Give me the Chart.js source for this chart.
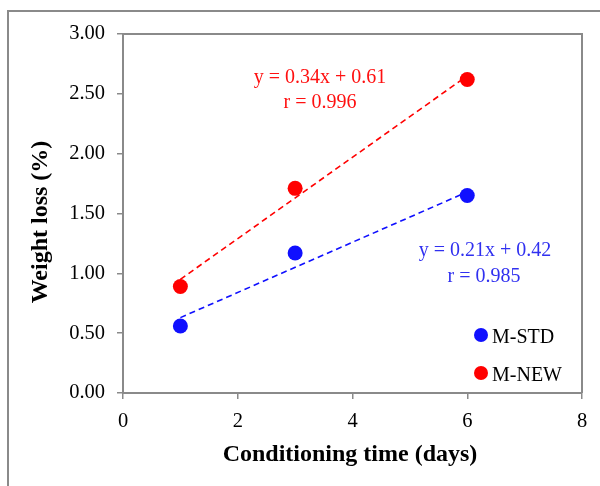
<!DOCTYPE html>
<html>
<head>
<meta charset="utf-8">
<script src="https://cdn.jsdelivr.net/npm/chart.js@4.4.1/dist/chart.umd.min.js"></script>
<style>
  html, body { margin: 0; padding: 0; background: #ffffff; }
  #wrap { width: 600px; height: 486px; position: relative; }
</style>
</head>
<body>
<div id="wrap"><canvas id="c" width="600" height="486"></canvas></div>
<script>
// ---- data ----
const days = [1, 3, 6];
const mStd = [0.56, 1.17, 1.65];
const mNew = [0.89, 1.71, 2.62];
const fitDays = [1, 6];
const fitStd = [0.63, 1.68];
const fitNew = [0.95, 2.65];
const seriesNames = ['M-STD', 'M-NEW'];
const eqStd = ['y = 0.21x + 0.42', 'r = 0.985'];
const eqNew = ['y = 0.34x + 0.61', 'r = 0.996'];
const xTitle = 'Conditioning time (days)';
const yTitle = 'Weight loss (%)';

const BLUE = '#1010ff';
const RED = '#ff0000';
const BLUE_TXT = '#3030f0';
const RED_TXT = '#ff1010';
const GRAY = '#8a8a8a';
const SERIF = '"Liberation Serif", "Times New Roman", serif';

const pts = (xs, ys) => xs.map((x, i) => ({ x: x, y: ys[i] }));

const decor = {
  id: 'decor',
  afterDraw(chart) {
    const ctx = chart.ctx;
    const a = chart.chartArea;
    ctx.save();
    // outer frame (top and left)
    ctx.strokeStyle = GRAY;
    ctx.lineWidth = 2;
    ctx.beginPath();
    ctx.moveTo(8, 486); ctx.lineTo(8, 11); ctx.lineTo(600, 11);
    ctx.stroke();
    // plot box top and right
    ctx.beginPath();
    ctx.moveTo(a.left, a.top); ctx.lineTo(a.right, a.top); ctx.lineTo(a.right, a.bottom);
    ctx.stroke();

    // equations
    ctx.font = '20px ' + SERIF;
    ctx.textAlign = 'center';
    ctx.textBaseline = 'alphabetic';
    ctx.fillStyle = RED_TXT;
    ctx.fillText(eqNew[0], 320, 83);
    ctx.fillText(eqNew[1], 320, 108);
    ctx.fillStyle = BLUE_TXT;
    ctx.fillText(eqStd[0], 485, 256);
    ctx.fillText(eqStd[1], 484, 282);

    // legend
    const legend = [[seriesNames[0], BLUE, 335, 343], [seriesNames[1], RED, 373, 381]];
    ctx.textAlign = 'left';
    legend.forEach(([name, col, cy, by]) => {
      ctx.fillStyle = col;
      ctx.beginPath(); ctx.arc(481, cy, 7, 0, Math.PI * 2); ctx.fill();
      ctx.fillStyle = '#000';
      ctx.fillText(name, 492, by);
    });

    // axis titles
    ctx.font = 'bold 24px ' + SERIF;
    ctx.fillStyle = '#000';
    ctx.textAlign = 'center';
    ctx.fillText(xTitle, 350, 461);
    ctx.translate(47, 222);
    ctx.rotate(-Math.PI / 2);
    ctx.fillText(yTitle, 0, 0);
    ctx.restore();
  }
};

new Chart(document.getElementById('c'), {
  type: 'scatter',
  data: {
    datasets: [
      { label: seriesNames[0], data: pts(days, mStd), backgroundColor: BLUE, borderColor: BLUE,
        pointRadius: 7.5, pointHoverRadius: 7.5, borderWidth: 0 },
      { label: seriesNames[1], data: pts(days, mNew), backgroundColor: RED, borderColor: RED,
        pointRadius: 7.5, pointHoverRadius: 7.5, borderWidth: 0 },
      { label: 'fit STD', data: pts(fitDays, fitStd), showLine: true, pointRadius: 0,
        borderColor: BLUE, borderWidth: 1.6, borderDash: [6, 4], fill: false },
      { label: 'fit NEW', data: pts(fitDays, fitNew), showLine: true, pointRadius: 0,
        borderColor: RED, borderWidth: 1.6, borderDash: [6, 4], fill: false }
    ]
  },
  options: {
    responsive: false,
    animation: false,
    events: [],
    layout: { padding: { left: 0, right: 18, top: 34, bottom: 0 } },
    plugins: { legend: { display: false }, tooltip: { enabled: false } },
    scales: {
      x: {
        type: 'linear', min: 0, max: 8,
        ticks: { stepSize: 2, color: '#000', padding: 10, font: { family: SERIF, size: 20.5 } },
        grid: { drawOnChartArea: false, drawTicks: true, tickLength: 6, color: GRAY, lineWidth: 1.5 },
        border: { display: true, color: GRAY, width: 2 },
        afterFit(s) { s.height = 93; }
      },
      y: {
        type: 'linear', min: 0, max: 3,
        ticks: { stepSize: 0.5, color: '#000', padding: 12, font: { family: SERIF, size: 20.5 },
          callback: v => Number(v).toFixed(2) },
        grid: { drawOnChartArea: false, drawTicks: true, tickLength: 6, color: GRAY, lineWidth: 1.5 },
        border: { display: true, color: GRAY, width: 2 },
        afterFit(s) { s.width = 123; }
      }
    }
  },
  plugins: [decor]
});
</script>
</body>
</html>
